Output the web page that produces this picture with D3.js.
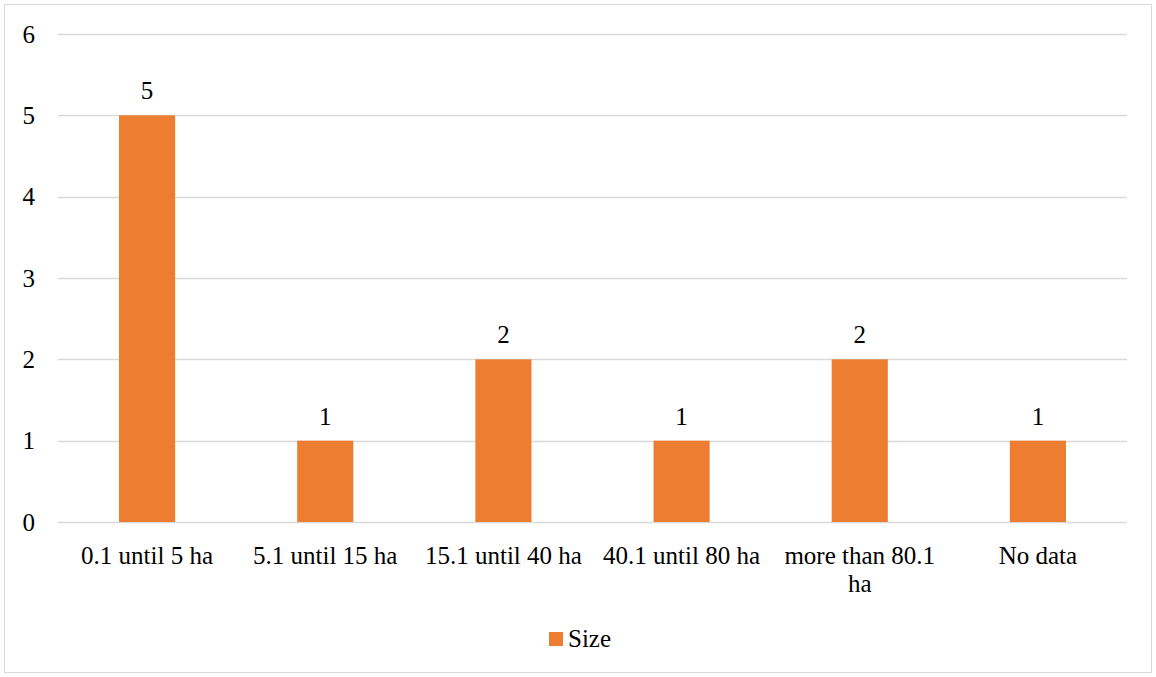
<!DOCTYPE html>
<html>
<head>
<meta charset="utf-8">
<script src="https://cdn.jsdelivr.net/npm/d3@7"></script>
<style>
  html, body { margin: 0; padding: 0; background: #fff; }
  svg { display: block; }
</style>
</head>
<body>
<svg id="chart" width="1156" height="677"></svg>
<script>
// Farm size classes and number of farms in each
const categories = ["0.1 until 5 ha", "5.1 until 15 ha", "15.1 until 40 ha", "40.1 until 80 ha", "more than 80.1 ha", "No data"];
const sizeValues = [5, 1, 2, 1, 2, 1];
const yTicks = [0, 1, 2, 3, 4, 5, 6];
const seriesName = "Size";

const W = 1156, H = 677;
const margin = { left: 58, right: 29, top: 34, bottom: 155 };
const fontFamily = "'Liberation Serif', 'Times New Roman', Times, serif";
const fontSize = 25;
const barColor = "#ED7D31";
const gridColor = "#d9d9d9";

const svg = d3.select("#chart")
  .attr("font-family", fontFamily)
  .style("font-family", fontFamily);

// chart frame
svg.append("rect")
  .attr("x", 4.5).attr("y", 4.5)
  .attr("width", W - 9).attr("height", H - 9)
  .attr("fill", "#fff").attr("stroke", gridColor).attr("stroke-width", 1);

const x = d3.scaleBand()
  .domain(categories)
  .range([margin.left, W - margin.right])
  .paddingInner(0.685).paddingOuter(0.3425);

const y = d3.scaleLinear()
  .domain([0, 6])
  .range([H - margin.bottom, margin.top]);

// horizontal gridlines
svg.append("g")
  .selectAll("line")
  .data(yTicks)
  .join("line")
  .attr("x1", margin.left).attr("x2", W - margin.right)
  .attr("y1", d => Math.round(y(d)) + 0.5).attr("y2", d => Math.round(y(d)) + 0.5)
  .attr("stroke", gridColor).attr("stroke-width", 1.3);

// y axis labels
const yAxis = d3.axisLeft(y).tickValues(yTicks).tickFormat(d3.format("d")).tickSize(0).tickPadding(23);
const gy = svg.append("g")
  .attr("transform", `translate(${margin.left},0)`)
  .call(yAxis);
gy.attr("font-family", fontFamily).attr("font-size", fontSize);
gy.select(".domain").remove();
gy.selectAll("text")
  .style("font-family", fontFamily)
  .style("font-size", fontSize + "px")
  .attr("fill", "#000");

// bars
svg.append("g")
  .selectAll("rect")
  .data(categories)
  .join("rect")
  .attr("x", d => x(d))
  .attr("width", x.bandwidth())
  .attr("y", (d, i) => y(sizeValues[i]))
  .attr("height", (d, i) => y(0) - y(sizeValues[i]))
  .attr("fill", barColor);

// value labels
svg.append("g")
  .selectAll("text")
  .data(categories)
  .join("text")
  .attr("x", d => x(d) + x.bandwidth() / 2)
  .attr("y", (d, i) => y(sizeValues[i]) - 16)
  .attr("text-anchor", "middle")
  .style("font-family", fontFamily)
  .style("font-size", fontSize + "px")
  .text((d, i) => sizeValues[i]);

// category labels, wrapped when wider than the category slot allows
const maxLabelWidth = x.step() - 10;
const gx = svg.append("g");
categories.forEach(cat => {
  const cx = x(cat) + x.bandwidth() / 2;
  const t = gx.append("text")
    .attr("x", cx)
    .attr("y", y(0) + 42)
    .attr("text-anchor", "middle")
    .style("font-family", fontFamily)
    .style("font-size", fontSize + "px");
  const words = cat.split(" ");
  let line = [];
  let tspan = t.append("tspan").attr("x", cx).attr("dy", 0);
  words.forEach(w => {
    line.push(w);
    tspan.text(line.join(" "));
    if (tspan.node().getComputedTextLength() > maxLabelWidth && line.length > 1) {
      line.pop();
      tspan.text(line.join(" "));
      line = [w];
      tspan = t.append("tspan").attr("x", cx).attr("dy", 28).text(w);
    }
  });
});

// legend
const legend = svg.append("g").attr("transform", "translate(549,632)");
legend.append("rect")
  .attr("x", 0).attr("y", 0)
  .attr("width", 14).attr("height", 14)
  .attr("fill", barColor);
legend.append("text")
  .attr("x", 19).attr("y", 15)
  .style("font-family", fontFamily)
  .style("font-size", fontSize + "px")
  .text(seriesName);
</script>
</body>
</html>
